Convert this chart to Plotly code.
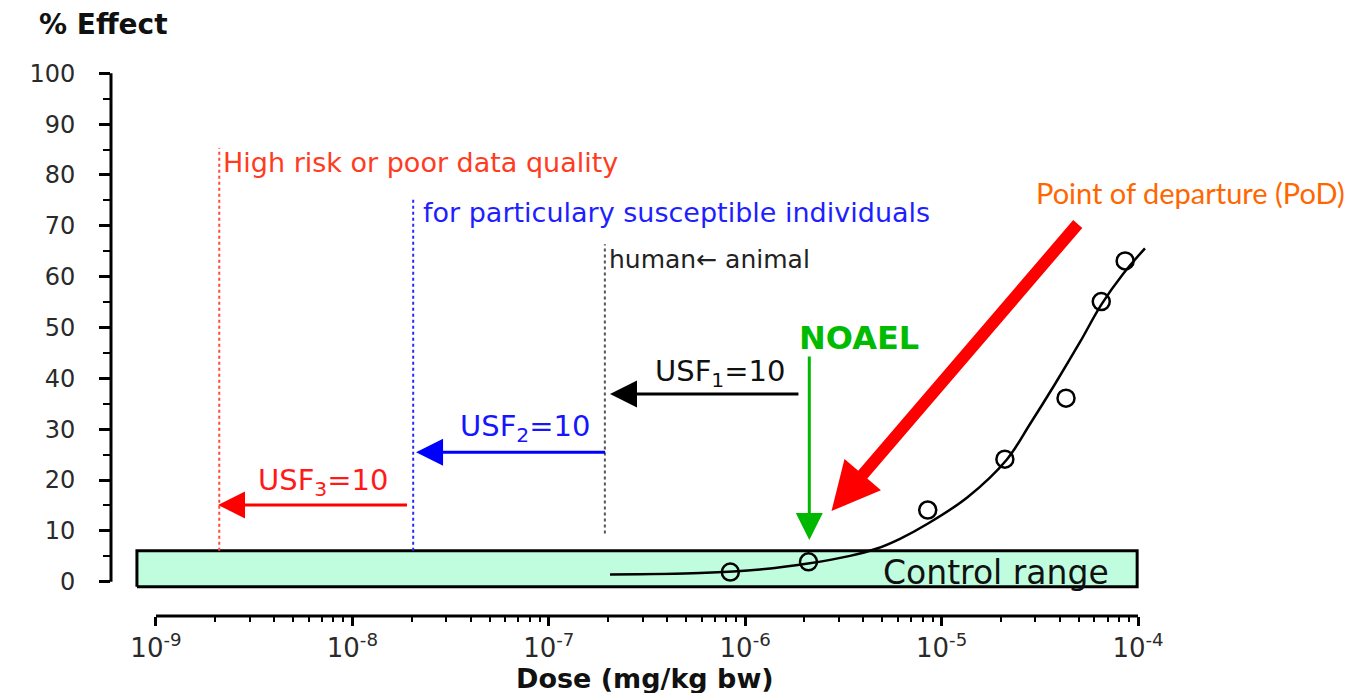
import numpy as np
import plotly.graph_objects as go

# ---------------- data ----------------
dose_points = [8.4e-7, 2.1e-6, 8.5e-6, 2.1e-5, 4.3e-5, 6.5e-5, 8.6e-5]
effect_points = [1.9, 3.9, 14.1, 24.1, 36.1, 55.1, 63.1]

curve_dose = [2.05e-7, 5.89e-7, 1.19e-6, 2.09e-6, 3.42e-6, 4.69e-6, 6.14e-6, 8.53e-6,
              1.35e-5, 2.15e-5, 2.82e-5, 3.78e-5, 5.07e-5, 6.48e-5, 8.39e-5, 1.085e-4]
curve_effect = [1.42, 1.71, 2.40, 3.58, 5.08, 6.53, 8.44, 11.45,
                16.56, 24.04, 31.02, 38.89, 47.15, 54.40, 60.52, 65.58]

control_dose = [8.0e-10, 9.9e-5]
control_effect = [-1.0, 6.1]

limit_dose = [2.1e-9, 2.04e-8, 1.93e-7]
limit_top = [85.3, 75.7, 66.4]
limit_bottom = [6.1, 6.1, 9.5]
limit_colors = ["#FF4A3A", "#2A2AFF", "#555555"]
limit_texts = ["High risk or poor data quality", "for particulary susceptible individuals",
               "human\u2190 animal"]
limit_text_y = [82.5, 72.7, 63.3]
limit_text_shift = [2, 8, 2]
limit_text_colors = ["#FF3B22", "#1E1EFF", "#222222"]
limit_text_sizes = [27, 27, 25]

usf_labels = ["USF<sub>1</sub>=10", "USF<sub>2</sub>=10", "USF<sub>3</sub>=10"]
usf_tail = [1.9e-6, 1.97e-7, 1.93e-8]
usf_tip = [2.05e-7, 2.11e-8, 2.07e-9]
usf_level = [36.9, 25.45, 15.1]
usf_label_dose = [7.45e-7, 7.56e-8, 7.08e-9]
usf_label_y = [41.0, 30.2, 19.6]
usf_colors = ["#000000", "#0000FF", "#FF0000"]
usf_text_colors = ["#111111", "#1515FF", "#FF1A1A"]

noael_dose = 2.12e-6
noael_top = 44.6
noael_tip = 8.2
noael_label_dose = 3.79e-6
noael_label_y = 47.9

pod_tail = (5.01e-5, 70.65)
pod_tip = (2.75e-6, 13.9)

control_label_dose = 1.89e-5
control_label_y = 1.9

x_tick_vals = [1e-9, 1e-8, 1e-7, 1e-6, 1e-5, 1e-4]
x_tick_text = ["10<sup>-9</sup>", "10<sup>-8</sup>", "10<sup>-7</sup>",
               "10<sup>-6</sup>", "10<sup>-5</sup>", "10<sup>-4</sup>"]
x_minor_vals = [k * d for d in x_tick_vals[:-1] for k in range(2, 10)]
y_tick_vals = list(range(0, 101, 10))
y_minor_vals = list(range(5, 100, 10))

FONT = "DejaVu Sans"

fig = go.Figure()

# control range box
fig.add_trace(go.Scatter(
    x=[control_dose[0], control_dose[1], control_dose[1], control_dose[0], control_dose[0]],
    y=[control_effect[0], control_effect[0], control_effect[1], control_effect[1], control_effect[0]],
    mode="lines", fill="toself", fillcolor="#C0FDDF",
    line=dict(color="black", width=3), hoverinfo="skip"))

# dotted limit lines
for xd, yt, yb, c in zip(limit_dose, limit_top, limit_bottom, limit_colors):
    fig.add_trace(go.Scatter(x=[xd, xd], y=[yb, yt], mode="lines",
                             line=dict(color=c, width=2, dash="dot"), hoverinfo="skip"))

# fitted curve
fig.add_trace(go.Scatter(x=curve_dose, y=curve_effect, mode="lines",
                         line=dict(color="black", width=2.5, shape="spline", smoothing=1.0),
                         hoverinfo="skip"))
# data points
fig.add_trace(go.Scatter(x=dose_points, y=effect_points, mode="markers",
                         marker=dict(symbol="circle-open", size=17, color="black",
                                     line=dict(width=2.5, color="black")),
                         hoverinfo="skip"))

annotations = []
# limit texts
for xd, t, ty, sh, c, s in zip(limit_dose, limit_texts, limit_text_y, limit_text_shift,
                               limit_text_colors, limit_text_sizes):
    annotations.append(dict(x=np.log10(xd), y=ty, xref="x", yref="y", text=t, showarrow=False,
                            xanchor="left", yanchor="middle", xshift=sh,
                            font=dict(family=FONT, size=s, color=c)))
# USF arrows and labels
for tail, tip, lvl, c in zip(usf_tail, usf_tip, usf_level, usf_colors):
    annotations.append(dict(x=np.log10(tip), y=lvl, ax=np.log10(tail), ay=lvl,
                            xref="x", yref="y", axref="x", ayref="y", text="",
                            showarrow=True, arrowhead=2, arrowwidth=3, arrowsize=1.8,
                            arrowcolor=c, standoff=0, startstandoff=0))
for lab, lx, ly, c in zip(usf_labels, usf_label_dose, usf_label_y, usf_text_colors):
    annotations.append(dict(x=np.log10(lx), y=ly, xref="x", yref="y", text=lab, showarrow=False,
                            xanchor="center", yanchor="middle",
                            font=dict(family=FONT, size=29, color=c)))
# NOAEL
annotations.append(dict(x=np.log10(noael_dose), y=noael_tip, ax=np.log10(noael_dose), ay=noael_top,
                        xref="x", yref="y", axref="x", ayref="y", text="", showarrow=True,
                        arrowhead=2, arrowwidth=3, arrowsize=1.8, arrowcolor="#00B800",
                        standoff=0))
annotations.append(dict(x=np.log10(noael_label_dose), y=noael_label_y, xref="x", yref="y",
                        text="<b>NOAEL</b>", showarrow=False, xanchor="center", yanchor="middle",
                        font=dict(family=FONT, size=32, color="#00BB00")))
# PoD arrow
annotations.append(dict(x=np.log10(pod_tip[0]), y=pod_tip[1], ax=np.log10(pod_tail[0]), ay=pod_tail[1],
                        xref="x", yref="y", axref="x", ayref="y", text="", showarrow=True,
                        arrowhead=2, arrowwidth=12, arrowsize=0.8, arrowcolor="#FF0000",
                        standoff=0))
annotations.append(dict(x=1.0286, y=0.761, xref="paper", yref="paper",
                        text="Point of departure (PoD)", showarrow=False,
                        xanchor="center", yanchor="middle",
                        font=dict(family="Lato", size=29, color="#FF6600")))
# control range label
annotations.append(dict(x=np.log10(control_label_dose), y=control_label_y, xref="x", yref="y",
                        text="Control range", showarrow=False, xanchor="center", yanchor="middle",
                        font=dict(family=FONT, size=33, color="#111111")))
# axis titles
annotations.append(dict(x=-0.0705, y=1.0647, xref="paper", yref="paper", text="<b>% Effect</b>",
                        showarrow=False, xanchor="left", yanchor="middle",
                        font=dict(family=FONT, size=28, color="#111111")))
annotations.append(dict(x=0.509, y=-0.1133, xref="paper", yref="paper",
                        text="<b>Dose (mg/kg bw)</b>", showarrow=False,
                        xanchor="center", yanchor="middle",
                        font=dict(family=FONT, size=27, color="#111111")))

shapes = [
    dict(type="line", xref="paper", yref="y", x0=0, x1=0, y0=y_tick_vals[0], y1=y_tick_vals[-1],
         line=dict(color="black", width=3)),
    dict(type="line", xref="x", yref="paper", x0=x_tick_vals[0], x1=x_tick_vals[-1], y0=0, y1=0,
         line=dict(color="black", width=3)),
]

fig.update_layout(
    width=1360, height=685,
    margin=dict(l=103, r=208, t=52, b=77),
    paper_bgcolor="white", plot_bgcolor="white",
    showlegend=False, hovermode=False,
    annotations=annotations, shapes=shapes,
    xaxis=dict(type="log", range=[-9.229, -3.888], tickmode="array",
               tickvals=x_tick_vals, ticktext=x_tick_text,
               ticks="outside", ticklen=9, tickwidth=3, tickcolor="black",
               showline=False, showgrid=False, zeroline=False, ticklabelstandoff=0,
               tickfont=dict(family=FONT, size=26, color="#2A2A2A"),
               minor=dict(tickmode="array", tickvals=x_minor_vals, ticks="outside",
                          ticklen=5, tickwidth=2, tickcolor="black", showgrid=False)),
    yaxis=dict(range=[-6.75, 102.62], tickmode="array", tickvals=y_tick_vals,
               ticks="outside", ticklen=11, tickwidth=3, tickcolor="black",
               showline=False, showgrid=False, zeroline=False, ticklabelstandoff=19,
               tickfont=dict(family=FONT, size=24, color="#2A2A2A"),
               minor=dict(tickmode="array", tickvals=y_minor_vals, ticks="outside",
                          ticklen=7, tickwidth=2, tickcolor="black", showgrid=False)),
)

fig.write_html("out.html")
